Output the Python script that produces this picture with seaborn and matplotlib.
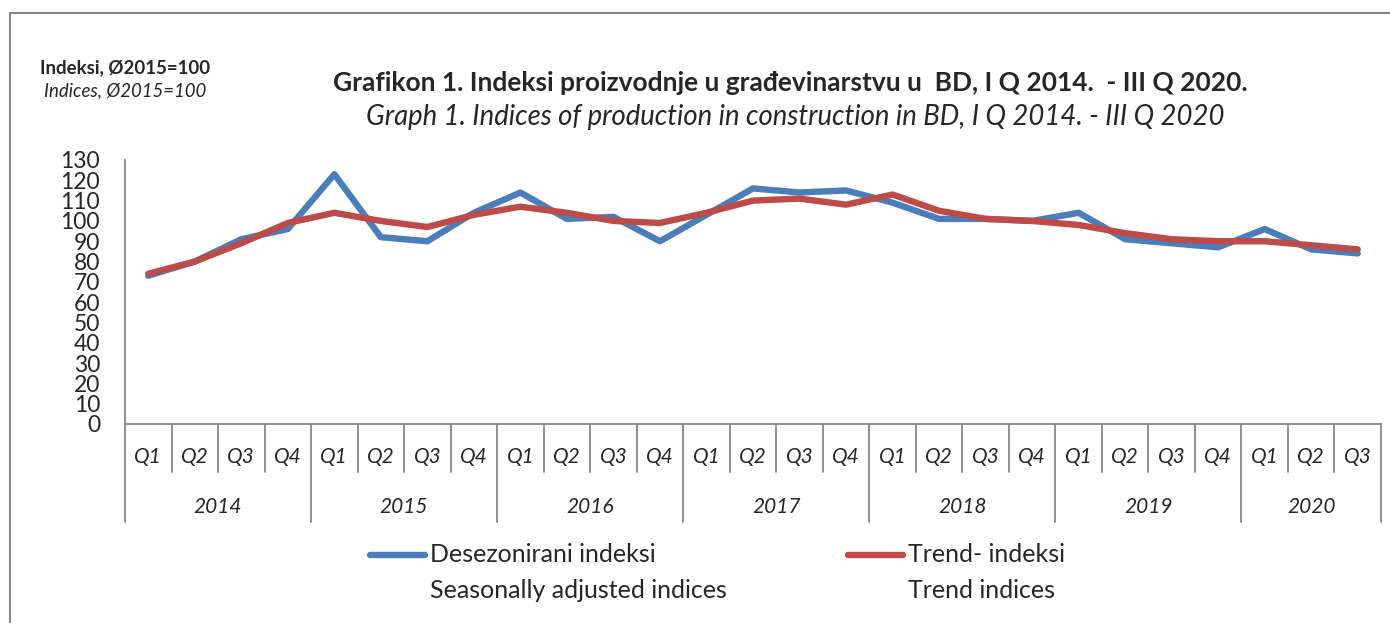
import numpy as np
import pandas as pd
import matplotlib
matplotlib.use('Agg')
import matplotlib.pyplot as plt
import matplotlib.transforms as mtransforms
from matplotlib.lines import Line2D
import seaborn as sns

# podaci (ocitano sa grafikona)
years = ['2014', '2015', '2016', '2017', '2018', '2019', '2020']
quarters_per_year = [4, 4, 4, 4, 4, 4, 3]
quarter_names = ['Q1', 'Q2', 'Q3', 'Q4']

desez = [73, 80, 91, 96, 123, 92, 90, 104, 114, 101, 102, 90, 103, 116,
         114, 115, 109, 101, 101, 100, 104, 91, 89, 87, 96, 86, 84]
trend = [74, 80, 89, 99, 104, 100, 97, 103, 107, 104, 100, 99, 104, 110,
         111, 108, 113, 105, 101, 100, 98, 94, 91, 90, 90, 88, 86]

y_ticks = list(range(0, 131, 10))

labels_hr = ['Desezonirani indeksi', 'Trend- indeksi']
labels_en = ['Seasonally adjusted indices', 'Trend indices']
colors = ['#4A7EBB', '#BE4B48']

# tabela za seaborn
periods, q_labels = [], []
for y, n in zip(years, quarters_per_year):
    for q in quarter_names[:n]:
        periods.append(y + ' ' + q)
        q_labels.append(q)

df = pd.DataFrame({'period': periods * 2,
                   'value': desez + trend,
                   'serija': [labels_hr[0]] * len(desez) + [labels_hr[1]] * len(trend)})

sns.set_style('white')
plt.rcParams['font.family'] = ['Lato', 'DejaVu Sans']

fig = plt.figure(figsize=(13.9, 6.23), dpi=100)
ax = fig.add_axes([125 / 1390, 1 - 424 / 623, (1381 - 125) / 1390, 264 / 623])

sns.lineplot(data=df, x='period', y='value', hue='serija', palette=colors,
             linewidth=4.6, sort=False, legend=False, ax=ax)

n = len(periods)
ax.set_xlim(-0.5, n - 0.5)
ax.set_ylim(0, 130)
ax.set_yticks(y_ticks)
ax.set_yticklabels([str(t) for t in y_ticks], fontsize=16.5)
ax.tick_params(axis='y', direction='out', length=6, width=1.2, color='#868686', pad=12)
ax.tick_params(axis='x', length=0, labelbottom=False)
ax.set_xlabel('')
ax.set_ylabel('')
for s in ['top', 'right']:
    ax.spines[s].set_visible(False)
for s in ['left', 'bottom']:
    ax.spines[s].set_color('#868686')
    ax.spines[s].set_linewidth(1.3)

# kategorijska osa u dva nivoa
trans = mtransforms.blended_transform_factory(ax.transData, ax.transAxes)
axh = 264.0
year_bounds = np.cumsum([0] + quarters_per_year)
for i in range(n + 1):
    bottom = -98 / axh if i in year_bounds else -48 / axh
    ax.plot([i - 0.5, i - 0.5], [0, bottom], transform=trans, color='#868686',
            lw=1.3, clip_on=False)
for i, q in enumerate(q_labels):
    ax.text(i, -33 / axh, q, transform=trans, ha='center', va='center',
            fontsize=15, style='italic')
for k, y in enumerate(years):
    mid = (year_bounds[k] + year_bounds[k + 1] - 1) / 2
    ax.text(mid, -83 / axh, y, transform=trans, ha='center', va='center',
            fontsize=15, style='italic')

# naslovi
fig.text(790 / 1390, 1 - 83 / 623,
         'Grafikon 1. Indeksi proizvodnje u građevinarstvu u  BD, I Q 2014.  - III Q 2020.',
         ha='center', va='center', fontsize=19, fontweight='bold')
fig.text(795 / 1390, 1 - 117 / 623,
         'Graph 1. Indices of production in construction in BD, I Q 2014. - III Q 2020',
         ha='center', va='center', fontsize=19.8, style='italic')
fig.text(125 / 1390, 1 - 68 / 623, 'Indeksi, Ø2015=100', ha='center', va='center',
         fontsize=13.4, fontweight='bold')
fig.text(125 / 1390, 1 - 91 / 623, 'Indices, Ø2015=100', ha='center', va='center',
         fontsize=13.4, style='italic')

# legenda
for x0, c, t1, t2 in zip([370, 848], colors, labels_hr, labels_en):
    fig.add_artist(Line2D([x0 / 1390, (x0 + 55) / 1390], [1 - 555 / 623] * 2,
                          color=c, lw=4.6, solid_capstyle='round'))
    fig.text((x0 + 60) / 1390, 1 - 555 / 623, t1, ha='left', va='center', fontsize=18)
    fig.text((x0 + 60) / 1390, 1 - 591 / 623, t2, ha='left', va='center', fontsize=18)

# okvir
fig.add_artist(Line2D([10 / 1390, 10 / 1390], [0, 1 - 13 / 623], color='#868686', lw=1.5))
fig.add_artist(Line2D([10 / 1390, 1], [1 - 13 / 623] * 2, color='#868686', lw=1.5))

plt.savefig('out.png', dpi=100)
print('out.png saved')
